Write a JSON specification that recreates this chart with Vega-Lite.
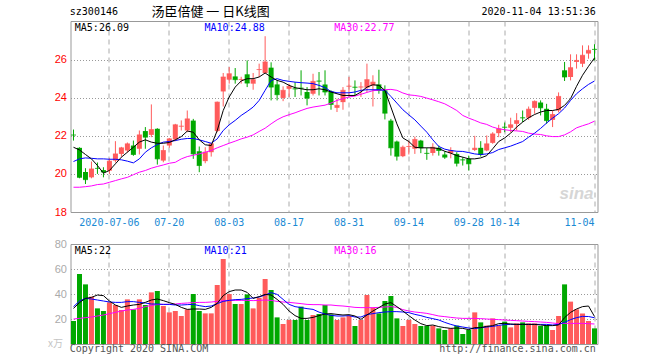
{
"$schema": "https://vega.github.io/schema/vega-lite/v6.json",
"padding": {"left": 47.5, "top": 5, "right": 5, "bottom": 5},
"background": "white",
"config": {"view": {"stroke": "#999", "strokeWidth": 1}, "concat": {"spacing": 9}, "axis": {"labelOverlap": false, "labelSeparation": 0}},
"datasets": {"k": [
{"d":"2020-06-24","o":22.05,"h":22.33,"l":21.75,"c":22.04,"v":18.4,"m5":21.40,"m10":20.65,"m30":19.30,"v5":28.5,"v10":29.9,"v30":20.0},
{"d":"2020-06-29","o":21.37,"h":21.40,"l":19.77,"c":19.82,"v":56.0,"m5":21.26,"m10":20.79,"m30":19.30,"v5":33.1,"v10":34.4,"v30":20.5},
{"d":"2020-06-30","o":20.10,"h":20.30,"l":19.47,"c":19.70,"v":47.7,"m5":21.02,"m10":20.84,"m30":19.33,"v5":36.5,"v10":36.5,"v30":21.1},
{"d":"2020-07-01","o":19.82,"h":20.65,"l":19.77,"c":20.26,"v":37.9,"m5":20.79,"m10":20.82,"m30":19.37,"v5":37.3,"v10":36.0,"v30":21.6},
{"d":"2020-07-02","o":20.30,"h":20.60,"l":20.00,"c":20.29,"v":28.5,"m5":20.44,"m10":20.79,"m30":19.44,"v5":39.2,"v10":35.2,"v30":22.4},
{"d":"2020-07-03","o":20.20,"h":20.35,"l":19.82,"c":20.10,"v":26.4,"m5":20.04,"m10":20.79,"m30":19.47,"v5":38.7,"v10":34.4,"v30":23.2},
{"d":"2020-07-06","o":20.17,"h":20.82,"l":20.00,"c":20.67,"v":33.3,"m5":20.18,"m10":20.77,"m30":19.56,"v5":34.4,"v10":33.6,"v30":24.3},
{"d":"2020-07-07","o":20.70,"h":21.72,"l":20.60,"c":21.05,"v":31.2,"m5":20.53,"m10":20.77,"m30":19.65,"v5":31.2,"v10":33.3,"v30":25.3},
{"d":"2020-07-08","o":21.05,"h":21.42,"l":20.90,"c":21.37,"v":27.2,"m5":20.88,"m10":20.74,"m30":19.74,"v5":29.3,"v10":33.3,"v30":26.4},
{"d":"2020-07-09","o":21.23,"h":21.65,"l":21.12,"c":21.58,"v":35.7,"m5":21.14,"m10":20.67,"m30":19.82,"v5":30.4,"v10":33.9,"v30":27.2},
{"d":"2020-07-10","o":21.49,"h":21.75,"l":20.95,"c":21.02,"v":27.7,"m5":21.40,"m10":20.58,"m30":19.96,"v5":31.2,"v10":33.9,"v30":27.7},
{"d":"2020-07-13","o":21.32,"h":22.28,"l":21.02,"c":22.05,"v":35.7,"m5":21.67,"m10":20.79,"m30":20.09,"v5":31.7,"v10":33.3,"v30":28.5},
{"d":"2020-07-14","o":22.25,"h":22.46,"l":21.32,"c":21.93,"v":31.2,"m5":21.79,"m10":21.14,"m30":20.18,"v5":33.3,"v10":32.8,"v30":29.9},
{"d":"2020-07-15","o":22.05,"h":23.65,"l":21.93,"c":22.33,"v":41.3,"m5":21.67,"m10":21.37,"m30":20.30,"v5":35.2,"v10":32.0,"v30":30.9},
{"d":"2020-07-16","o":22.37,"h":22.40,"l":20.49,"c":20.79,"v":42.4,"m5":21.61,"m10":21.54,"m30":20.39,"v5":36.0,"v10":32.0,"v30":31.5},
{"d":"2020-07-17","o":20.70,"h":21.49,"l":20.61,"c":21.23,"v":30.4,"m5":21.61,"m10":21.67,"m30":20.47,"v5":34.7,"v10":31.7,"v30":31.7},
{"d":"2020-07-20","o":21.49,"h":21.89,"l":21.37,"c":21.84,"v":25.3,"m5":21.65,"m10":21.70,"m30":20.56,"v5":33.1,"v10":31.7,"v30":31.7},
{"d":"2020-07-21","o":21.81,"h":22.63,"l":21.72,"c":22.58,"v":26.4,"m5":21.79,"m10":21.75,"m30":20.61,"v5":31.7,"v10":31.2,"v30":32.0},
{"d":"2020-07-22","o":22.49,"h":22.81,"l":22.28,"c":22.51,"v":22.4,"m5":21.96,"m10":21.82,"m30":20.79,"v5":29.3,"v10":31.2,"v30":32.5},
{"d":"2020-07-23","o":22.28,"h":23.33,"l":22.19,"c":22.89,"v":27.7,"m5":22.25,"m10":21.86,"m30":20.91,"v5":27.7,"v10":31.5,"v30":32.8},
{"d":"2020-07-24","o":22.80,"h":22.89,"l":20.79,"c":21.05,"v":40.0,"m5":22.19,"m10":21.86,"m30":20.98,"v5":28.0,"v10":31.7,"v30":33.1},
{"d":"2020-07-27","o":21.19,"h":21.44,"l":20.09,"c":20.44,"v":26.4,"m5":21.79,"m10":21.79,"m30":21.05,"v5":28.0,"v10":30.7,"v30":33.3},
{"d":"2020-07-28","o":20.67,"h":21.40,"l":20.56,"c":21.14,"v":24.5,"m5":21.53,"m10":21.70,"m30":21.14,"v5":27.7,"v10":29.9,"v30":33.3},
{"d":"2020-07-29","o":21.14,"h":21.61,"l":20.91,"c":21.58,"v":24.5,"m5":21.49,"m10":21.61,"m30":21.23,"v5":29.3,"v10":30.4,"v30":33.6},
{"d":"2020-07-30","o":22.25,"h":23.80,"l":22.19,"c":23.77,"v":47.2,"m5":22.28,"m10":21.84,"m30":21.37,"v5":32.5,"v10":32.3,"v30":34.1},
{"d":"2020-07-31","o":24.33,"h":25.30,"l":23.54,"c":25.09,"v":68.0,"m5":23.33,"m10":22.28,"m30":21.49,"v5":38.7,"v10":34.1,"v30":34.7},
{"d":"2020-08-03","o":24.95,"h":25.61,"l":24.74,"c":25.26,"v":40.0,"m5":24.04,"m10":22.58,"m30":21.61,"v5":41.9,"v10":34.9,"v30":34.9},
{"d":"2020-08-04","o":25.12,"h":25.56,"l":24.74,"c":24.95,"v":32.0,"m5":24.56,"m10":22.81,"m30":21.72,"v5":43.2,"v10":35.5,"v30":34.9},
{"d":"2020-08-05","o":24.94,"h":25.10,"l":24.74,"c":24.96,"v":32.0,"m5":24.88,"m10":23.07,"m30":21.84,"v5":43.2,"v10":35.7,"v30":34.9},
{"d":"2020-08-06","o":25.23,"h":25.96,"l":24.56,"c":24.77,"v":39.7,"m5":25.00,"m10":23.28,"m30":21.93,"v5":41.3,"v10":36.3,"v30":34.9},
{"d":"2020-08-07","o":24.74,"h":25.30,"l":24.42,"c":24.95,"v":28.5,"m5":25.00,"m10":23.51,"m30":22.05,"v5":36.5,"v10":36.8,"v30":34.7},
{"d":"2020-08-10","o":25.46,"h":25.79,"l":25.09,"c":25.48,"v":37.0,"m5":25.09,"m10":23.86,"m30":22.23,"v5":37.9,"v10":37.6,"v30":34.9},
{"d":"2020-08-11","o":25.30,"h":27.23,"l":25.26,"c":25.88,"v":52.0,"m5":25.30,"m10":24.39,"m30":22.40,"v5":39.7,"v10":39.2,"v30":35.2},
{"d":"2020-08-12","o":25.58,"h":25.86,"l":23.86,"c":24.56,"v":43.2,"m5":25.09,"m10":24.91,"m30":22.63,"v5":39.2,"v10":41.1,"v30":34.9},
{"d":"2020-08-13","o":24.70,"h":24.91,"l":23.86,"c":24.16,"v":21.3,"m5":24.91,"m10":25.00,"m30":22.84,"v5":35.7,"v10":39.7,"v30":34.1},
{"d":"2020-08-14","o":23.99,"h":24.60,"l":23.82,"c":24.39,"v":16.0,"m5":24.82,"m10":24.91,"m30":23.00,"v5":31.7,"v10":35.7,"v30":33.6},
{"d":"2020-08-17","o":24.47,"h":24.74,"l":24.04,"c":24.60,"v":19.2,"m5":24.65,"m10":24.86,"m30":23.11,"v5":26.4,"v10":31.7,"v30":33.3},
{"d":"2020-08-18","o":24.48,"h":24.82,"l":24.04,"c":24.46,"v":19.2,"m5":24.53,"m10":24.82,"m30":23.21,"v5":22.7,"v10":29.9,"v30":32.8},
{"d":"2020-08-19","o":24.52,"h":25.44,"l":24.12,"c":24.50,"v":29.9,"m5":24.47,"m10":24.79,"m30":23.33,"v5":20.5,"v10":29.1,"v30":32.3},
{"d":"2020-08-20","o":24.30,"h":24.56,"l":23.60,"c":23.98,"v":19.2,"m5":24.42,"m10":24.77,"m30":23.44,"v5":20.5,"v10":28.3,"v30":31.7},
{"d":"2020-08-21","o":24.21,"h":25.26,"l":24.12,"c":24.86,"v":23.2,"m5":24.42,"m10":24.74,"m30":23.51,"v5":21.3,"v10":27.7,"v30":31.5},
{"d":"2020-08-24","o":24.89,"h":25.35,"l":24.12,"c":24.87,"v":24.0,"m5":24.47,"m10":24.65,"m30":23.56,"v5":22.7,"v10":25.5,"v30":31.5},
{"d":"2020-08-25","o":24.70,"h":25.44,"l":24.12,"c":24.30,"v":31.2,"m5":24.42,"m10":24.53,"m30":23.61,"v5":24.0,"v10":24.0,"v30":31.2},
{"d":"2020-08-26","o":24.33,"h":24.39,"l":23.37,"c":23.65,"v":23.7,"m5":24.30,"m10":24.33,"m30":23.72,"v5":24.3,"v10":22.9,"v30":31.2},
{"d":"2020-08-27","o":23.47,"h":23.95,"l":23.25,"c":23.60,"v":19.2,"m5":24.21,"m10":24.26,"m30":23.86,"v5":23.7,"v10":22.4,"v30":30.7},
{"d":"2020-08-28","o":23.77,"h":24.56,"l":23.37,"c":24.39,"v":21.3,"m5":24.12,"m10":24.26,"m30":23.95,"v5":23.2,"v10":22.4,"v30":30.4},
{"d":"2020-08-31","o":24.59,"h":25.09,"l":24.04,"c":24.61,"v":22.4,"m5":24.12,"m10":24.26,"m30":24.04,"v5":23.5,"v10":22.7,"v30":29.9},
{"d":"2020-09-01","o":24.57,"h":24.91,"l":24.12,"c":24.55,"v":14.4,"m5":24.12,"m10":24.30,"m30":24.09,"v5":22.4,"v10":21.6,"v30":29.3},
{"d":"2020-09-02","o":24.55,"h":24.82,"l":24.04,"c":24.57,"v":19.2,"m5":24.30,"m10":24.39,"m30":24.18,"v5":19.7,"v10":21.6,"v30":29.1},
{"d":"2020-09-03","o":24.53,"h":25.79,"l":24.30,"c":24.95,"v":39.2,"m5":24.56,"m10":24.42,"m30":24.28,"v5":23.2,"v10":23.5,"v30":29.1},
{"d":"2020-09-04","o":24.65,"h":25.18,"l":23.54,"c":24.82,"v":29.0,"m5":24.68,"m10":24.42,"m30":24.37,"v5":26.4,"v10":24.3,"v30":29.1},
{"d":"2020-09-07","o":24.70,"h":25.47,"l":24.21,"c":24.39,"v":24.5,"m5":24.65,"m10":24.42,"m30":24.40,"v5":29.1,"v10":25.1,"v30":29.3},
{"d":"2020-09-08","o":24.39,"h":24.65,"l":22.86,"c":23.19,"v":34.4,"m5":24.39,"m10":24.39,"m30":24.42,"v5":32.0,"v10":25.6,"v30":29.6},
{"d":"2020-09-09","o":22.80,"h":22.89,"l":20.96,"c":21.37,"v":38.4,"m5":23.51,"m10":24.07,"m30":24.44,"v5":33.1,"v10":25.9,"v30":29.9},
{"d":"2020-09-10","o":21.70,"h":21.75,"l":20.70,"c":20.93,"v":20.5,"m5":22.63,"m10":23.72,"m30":24.39,"v5":29.9,"v10":25.9,"v30":29.3},
{"d":"2020-09-11","o":20.93,"h":21.49,"l":20.88,"c":21.40,"v":14.4,"m5":21.89,"m10":23.37,"m30":24.25,"v5":26.4,"v10":25.6,"v30":27.5},
{"d":"2020-09-14","o":21.42,"h":21.75,"l":21.02,"c":21.44,"v":19.2,"m5":21.70,"m10":23.10,"m30":24.15,"v5":22.7,"v10":25.1,"v30":26.4},
{"d":"2020-09-15","o":21.32,"h":21.96,"l":21.05,"c":21.81,"v":16.0,"m5":21.40,"m10":22.84,"m30":24.12,"v5":19.2,"v10":23.7,"v30":25.6},
{"d":"2020-09-16","o":21.75,"h":21.79,"l":21.09,"c":21.37,"v":14.4,"m5":21.37,"m10":22.51,"m30":24.07,"v5":16.3,"v10":22.7,"v30":25.1},
{"d":"2020-09-17","o":21.10,"h":21.37,"l":20.74,"c":21.08,"v":14.4,"m5":21.37,"m10":22.19,"m30":23.98,"v5":14.7,"v10":21.3,"v30":24.5},
{"d":"2020-09-18","o":21.10,"h":21.61,"l":20.96,"c":21.40,"v":14.7,"m5":21.37,"m10":21.79,"m30":23.89,"v5":15.2,"v10":20.3,"v30":23.5},
{"d":"2020-09-21","o":21.37,"h":21.49,"l":20.96,"c":21.23,"v":12.5,"m5":21.33,"m10":21.44,"m30":23.79,"v5":13.9,"v10":19.2,"v30":22.4},
{"d":"2020-09-22","o":21.02,"h":21.19,"l":20.79,"c":20.88,"v":11.2,"m5":21.19,"m10":21.30,"m30":23.68,"v5":13.1,"v10":17.3,"v30":21.9},
{"d":"2020-09-23","o":21.09,"h":21.40,"l":20.82,"c":21.23,"v":12.5,"m5":21.09,"m10":21.23,"m30":23.51,"v5":12.5,"v10":15.7,"v30":21.3},
{"d":"2020-09-24","o":21.05,"h":21.14,"l":20.39,"c":20.56,"v":14.7,"m5":20.96,"m10":21.19,"m30":23.33,"v5":12.8,"v10":14.4,"v30":20.8},
{"d":"2020-09-25","o":20.75,"h":20.88,"l":20.44,"c":20.73,"v":8.0,"m5":20.88,"m10":21.18,"m30":23.07,"v5":12.5,"v10":13.6,"v30":20.5},
{"d":"2020-09-28","o":20.79,"h":20.96,"l":20.18,"c":20.53,"v":11.2,"m5":20.79,"m10":21.12,"m30":22.93,"v5":11.5,"v10":12.8,"v30":20.5},
{"d":"2020-09-29","o":21.26,"h":22.00,"l":21.20,"c":21.35,"v":25.3,"m5":20.79,"m10":21.05,"m30":22.81,"v5":13.1,"v10":12.3,"v30":20.5},
{"d":"2020-09-30","o":21.37,"h":21.72,"l":20.91,"c":21.02,"v":17.3,"m5":20.84,"m10":21.02,"m30":22.68,"v5":13.1,"v10":13.1,"v30":20.3},
{"d":"2020-10-09","o":21.23,"h":22.02,"l":21.19,"c":21.58,"v":14.7,"m5":20.96,"m10":21.05,"m30":22.60,"v5":14.1,"v10":13.6,"v30":20.0},
{"d":"2020-10-12","o":21.63,"h":22.19,"l":21.58,"c":22.10,"v":20.5,"m5":21.32,"m10":21.12,"m30":22.46,"v5":14.7,"v10":14.1,"v30":19.7},
{"d":"2020-10-13","o":22.14,"h":22.58,"l":21.93,"c":22.37,"v":14.7,"m5":21.70,"m10":21.28,"m30":22.37,"v5":16.3,"v10":14.9,"v30":19.5},
{"d":"2020-10-14","o":22.47,"h":22.70,"l":22.19,"c":22.45,"v":17.9,"m5":21.89,"m10":21.37,"m30":22.32,"v5":16.5,"v10":15.5,"v30":19.2},
{"d":"2020-10-15","o":22.42,"h":22.95,"l":22.19,"c":22.58,"v":13.3,"m5":22.14,"m10":21.46,"m30":22.28,"v5":16.0,"v10":15.7,"v30":18.9},
{"d":"2020-10-16","o":22.63,"h":23.19,"l":22.28,"c":22.80,"v":16.5,"m5":22.46,"m10":21.58,"m30":22.26,"v5":15.7,"v10":15.7,"v30":18.7},
{"d":"2020-10-19","o":22.96,"h":23.33,"l":22.72,"c":22.94,"v":17.3,"m5":22.72,"m10":21.70,"m30":22.23,"v5":15.7,"v10":15.7,"v30":18.4},
{"d":"2020-10-20","o":22.95,"h":23.54,"l":22.84,"c":23.40,"v":16.5,"m5":22.95,"m10":21.93,"m30":22.14,"v5":15.7,"v10":15.7,"v30":18.1},
{"d":"2020-10-21","o":23.47,"h":23.86,"l":23.16,"c":23.81,"v":16.5,"m5":23.12,"m10":22.14,"m30":22.09,"v5":15.7,"v10":15.7,"v30":17.9},
{"d":"2020-10-22","o":23.75,"h":23.86,"l":23.07,"c":23.47,"v":14.4,"m5":23.25,"m10":22.39,"m30":22.07,"v5":15.2,"v10":15.7,"v30":17.6},
{"d":"2020-10-23","o":23.42,"h":23.68,"l":22.63,"c":22.80,"v":15.2,"m5":23.33,"m10":22.67,"m30":22.00,"v5":14.7,"v10":15.7,"v30":17.3},
{"d":"2020-10-26","o":22.84,"h":23.33,"l":22.46,"c":23.12,"v":11.2,"m5":23.33,"m10":22.93,"m30":21.96,"v5":14.7,"v10":15.2,"v30":16.8},
{"d":"2020-10-27","o":23.33,"h":24.28,"l":23.23,"c":24.07,"v":22.4,"m5":23.39,"m10":23.16,"m30":21.96,"v5":15.2,"v10":15.7,"v30":16.3},
{"d":"2020-10-28","o":25.44,"h":25.88,"l":24.88,"c":25.09,"v":47.7,"m5":23.60,"m10":23.46,"m30":22.05,"v5":21.1,"v10":17.3,"v30":16.5},
{"d":"2020-10-29","o":25.09,"h":26.28,"l":24.91,"c":25.58,"v":33.9,"m5":23.95,"m10":23.86,"m30":22.21,"v5":25.3,"v10":19.5,"v30":16.5},
{"d":"2020-10-30","o":25.88,"h":26.28,"l":25.53,"c":25.96,"v":27.7,"m5":24.60,"m10":24.21,"m30":22.42,"v5":28.0,"v10":21.1,"v30":16.5},
{"d":"2020-11-02","o":25.79,"h":26.75,"l":25.61,"c":26.23,"v":24.5,"m5":25.18,"m10":24.47,"m30":22.53,"v5":29.9,"v10":22.1,"v30":16.5},
{"d":"2020-11-03","o":26.32,"h":26.75,"l":26.05,"c":26.49,"v":18.4,"m5":25.65,"m10":24.70,"m30":22.63,"v5":30.4,"v10":22.0,"v30":16.3},
{"d":"2020-11-04","o":26.55,"h":26.81,"l":25.96,"c":26.54,"v":12.5,"m5":26.09,"m10":24.88,"m30":22.77,"v5":22.0,"v10":21.0,"v30":16.0}
]},
"vconcat": [
{
"width": 527, "height": 191,
"data": {"name": "k"},
"encoding": {"x": {"field": "d", "type": "ordinal", "title": null,
  "scale": {"paddingInner": 0, "paddingOuter": 0},
  "axis": {"values": ["2020-07-06","2020-07-20","2020-08-03","2020-08-17","2020-08-31","2020-09-14","2020-09-28","2020-10-14","2020-11-04"],
    "labelExpr": "datum.value == '2020-07-06' ? datum.value : substring(datum.value, 5)",
    "labelAngle": 0, "ticks": false, "domain": false, "labelPadding": 5, "labelOverlap": false,
    "labelFont": "DejaVu Sans Mono", "labelFontSize": 10, "labelColor": "#1a8ad4",
    "labelAlign": {"condition": {"test": "datum.value == '2020-11-04'", "value": "right"}, "value": "center"},
    "grid": true, "gridDash": [5, 4], "gridColor": "#aaa"}}},
"layer": [
 {"mark": {"type": "rule", "strokeWidth": 1},
  "encoding": {
   "y": {"field": "l", "type": "quantitative", "title": null,
     "scale": {"domain": [18, 28.03], "nice": false, "zero": false},
     "axis": {"values": [18, 20, 22, 24, 26], "ticks": false, "domain": false, "labelPadding": 4, "labelOverlap": false,
       "labelFont": "Liberation Sans", "labelFontSize": 11, "labelColor": "#ff0000",
       "grid": true, "gridDash": [1, 2], "gridColor": "#999"}},
   "y2": {"field": "h"},
   "color": {"condition": {"test": "datum.c >= datum.o", "value": "#ff5b5b"}, "value": "#00a800"}}},
 {"mark": {"type": "bar", "size": 5},
  "encoding": {
   "y": {"field": "o", "type": "quantitative", "title": null},
   "y2": {"field": "c"},
   "color": {"condition": {"test": "datum.c >= datum.o", "value": "#ff5b5b"}, "value": "#00a800"}}},
 {"mark": {"type": "tick", "size": 5, "thickness": 1},
  "encoding": {
   "y": {"field": "c", "type": "quantitative", "title": null},
   "color": {"condition": {"test": "datum.c >= datum.o", "value": "#ff5b5b"}, "value": "#00a800"}}},
 {"mark": {"type": "line", "color": "#ff00ff", "strokeWidth": 1},
  "encoding": {"y": {"field": "m30", "type": "quantitative", "title": null}}},
 {"mark": {"type": "line", "color": "#0000ff", "strokeWidth": 1},
  "encoding": {"y": {"field": "m10", "type": "quantitative", "title": null}}},
 {"mark": {"type": "line", "color": "#000000", "strokeWidth": 1},
  "encoding": {"y": {"field": "m5", "type": "quantitative", "title": null}}},
 {"data": {"values": [{}]},
  "mark": {"type": "text", "text": "sina", "font": "Liberation Sans", "fontSize": 17, "fontStyle": "italic", "fontWeight": "bold", "color": "#d6d6d6", "align": "center", "baseline": "middle"},
  "encoding": {"x": {"datum": "2020-10-30", "type": "ordinal"}, "y": {"datum": 18.95, "type": "quantitative"}}},
 {"data": {"values": [{}]},
  "mark": {"type": "text", "text": "MA5:26.09", "font": "DejaVu Sans Mono", "fontSize": 10, "color": "#000000", "align": "left", "baseline": "middle", "dx": 1.3},
  "encoding": {"x": {"datum": "2020-06-24", "type": "ordinal"}, "y": {"datum": 27.68, "type": "quantitative"}}},
 {"data": {"values": [{}]},
  "mark": {"type": "text", "text": "MA10:24.88", "font": "DejaVu Sans Mono", "fontSize": 10, "color": "#0000ff", "align": "left", "baseline": "middle", "dx": -0.7},
  "encoding": {"x": {"datum": "2020-07-28", "type": "ordinal"}, "y": {"datum": 27.68, "type": "quantitative"}}},
 {"data": {"values": [{}]},
  "mark": {"type": "text", "text": "MA30:22.77", "font": "DejaVu Sans Mono", "fontSize": 10, "color": "#ff00ff", "align": "left", "baseline": "middle", "dx": -2.7},
  "encoding": {"x": {"datum": "2020-08-27", "type": "ordinal"}, "y": {"datum": 27.68, "type": "quantitative"}}},
 {"data": {"values": [{}]},
  "mark": {"type": "text", "text": "sz300146", "font": "DejaVu Sans Mono", "fontSize": 10, "color": "#000000", "align": "left", "baseline": "middle", "dx": -3.7},
  "encoding": {"x": {"datum": "2020-06-24", "type": "ordinal"}, "y": {"datum": 28.48, "type": "quantitative"}}},
 {"data": {"values": [{}]},
  "mark": {"type": "text", "text": "汤臣倍健 一 日K线图", "font": "Noto Sans CJK SC", "fontSize": 13, "color": "#000000", "align": "center", "baseline": "middle", "dx": -0.7},
  "encoding": {"x": {"datum": "2020-07-29", "type": "ordinal"}, "y": {"datum": 28.48, "type": "quantitative"}}},
 {"data": {"values": [{}]},
  "mark": {"type": "text", "text": "2020-11-04 13:51:36", "font": "DejaVu Sans Mono", "fontSize": 10, "color": "#000000", "align": "right", "baseline": "middle", "dx": 1.3},
  "encoding": {"x": {"datum": "2020-11-04", "type": "ordinal"}, "y": {"datum": 28.48, "type": "quantitative"}}}
]
},
{
"width": 527, "height": 100,
"data": {"name": "k"},
"resolve": {"axis": {"y": "independent"}},
"encoding": {"x": {"field": "d", "type": "ordinal", "title": null,
  "scale": {"paddingInner": 0, "paddingOuter": 0},
  "axis": {"values": ["2020-07-06","2020-07-20","2020-08-03","2020-08-17","2020-08-31","2020-09-14","2020-09-28","2020-10-14","2020-11-04"],
    "labels": false, "ticks": false, "domain": false,
    "grid": true, "gridDash": [5, 4], "gridColor": "#aaa"}}},
"layer": [
 {"mark": {"type": "bar", "size": 5},
  "encoding": {
   "y": {"field": "v", "type": "quantitative", "title": null,
     "scale": {"domain": [0, 80], "nice": false},
     "axis": {"values": [20, 40, 60, 80], "ticks": false, "domain": false, "labelPadding": 4, "labelOverlap": false,
       "labelFont": "Liberation Sans", "labelFontSize": 11, "labelColor": "#aaaaaa",
       "grid": true, "gridDash": [1, 2], "gridColor": "#999"}},
   "color": {"condition": {"test": "datum.c >= datum.o", "value": "#ff5b5b"}, "value": "#00a800"}}},
 {"mark": {"type": "line", "color": "#ff00ff", "strokeWidth": 1},
  "encoding": {"y": {"field": "v30", "type": "quantitative", "title": null, "axis": null}}},
 {"mark": {"type": "line", "color": "#0000ff", "strokeWidth": 1},
  "encoding": {"y": {"field": "v10", "type": "quantitative", "title": null, "axis": null}}},
 {"mark": {"type": "line", "color": "#000000", "strokeWidth": 1},
  "encoding": {"y": {"field": "v5", "type": "quantitative", "title": null, "axis": null}}},
 {"data": {"values": [{}]},
  "mark": {"type": "text", "text": "x万", "font": "Noto Sans CJK SC", "fontSize": 10, "color": "#c4c4c4", "align": "right", "baseline": "middle", "dx": -10.5},
  "encoding": {"x": {"datum": "2020-06-24", "type": "ordinal"}, "y": {"datum": 0, "type": "quantitative", "axis": null}}},
 {"data": {"values": [{}]},
  "mark": {"type": "text", "text": "MA5:22", "font": "DejaVu Sans Mono", "fontSize": 10, "color": "#000000", "align": "left", "baseline": "middle", "dx": 1.3},
  "encoding": {"x": {"datum": "2020-06-24", "type": "ordinal"}, "y": {"datum": 74.7, "type": "quantitative", "axis": null}}},
 {"data": {"values": [{}]},
  "mark": {"type": "text", "text": "MA10:21", "font": "DejaVu Sans Mono", "fontSize": 10, "color": "#0000ff", "align": "left", "baseline": "middle", "dx": -0.7},
  "encoding": {"x": {"datum": "2020-07-28", "type": "ordinal"}, "y": {"datum": 74.7, "type": "quantitative", "axis": null}}},
 {"data": {"values": [{}]},
  "mark": {"type": "text", "text": "MA30:16", "font": "DejaVu Sans Mono", "fontSize": 10, "color": "#ff00ff", "align": "left", "baseline": "middle", "dx": -2.7},
  "encoding": {"x": {"datum": "2020-08-27", "type": "ordinal"}, "y": {"datum": 74.7, "type": "quantitative", "axis": null}}},
 {"data": {"values": [{}]},
  "mark": {"type": "text", "text": "Copyright 2020 SINA.COM", "font": "DejaVu Sans Mono", "fontSize": 10, "color": "#555555", "align": "left", "baseline": "middle", "dx": -3.7},
  "encoding": {"x": {"datum": "2020-06-24", "type": "ordinal"}, "y": {"datum": -3.9, "type": "quantitative", "axis": null}}},
 {"data": {"values": [{}]},
  "mark": {"type": "text", "text": "http://finance.sina.com.cn", "font": "DejaVu Sans Mono", "fontSize": 10, "color": "#555555", "align": "right", "baseline": "middle", "dx": 1.3},
  "encoding": {"x": {"datum": "2020-11-04", "type": "ordinal"}, "y": {"datum": -3.9, "type": "quantitative", "axis": null}}}
]
}
]
}
